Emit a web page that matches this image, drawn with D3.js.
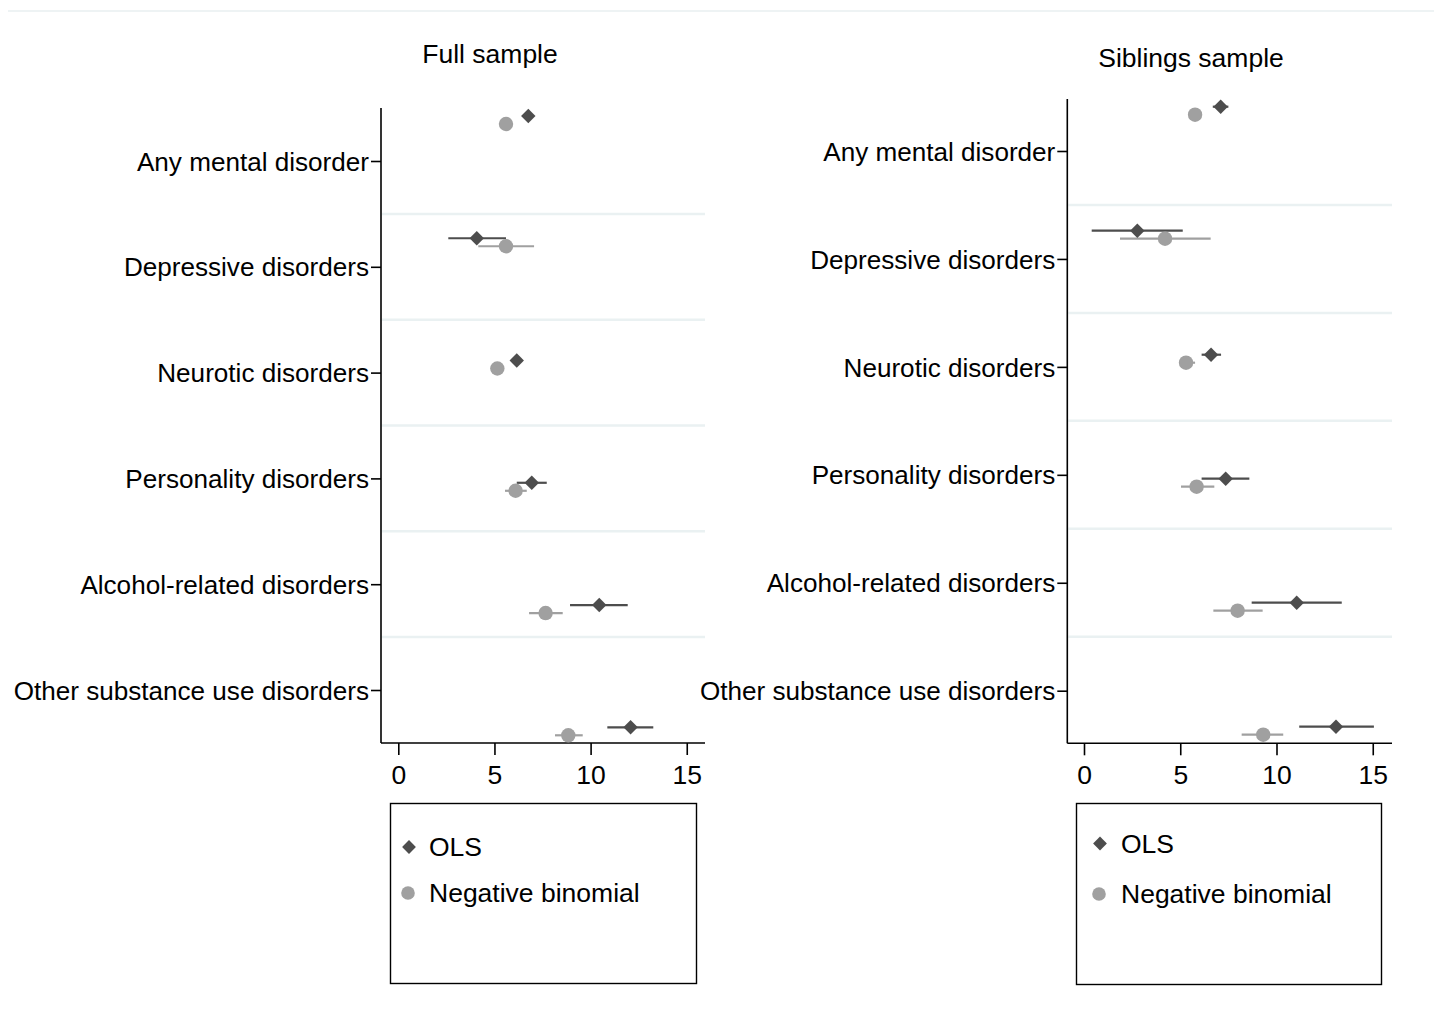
<!DOCTYPE html>
<html><head><meta charset="utf-8">
<script src="https://cdn.jsdelivr.net/npm/d3@7"></script>
<style>body{margin:0;background:#fff}svg{display:block;font-family:"Liberation Sans",Arial,sans-serif}</style>
</head><body>
<svg id="c" width="1434" height="1035"></svg>
<script>
const categories = ["Any mental disorder","Depressive disorders","Neurotic disorders","Personality disorders","Alcohol-related disorders","Other substance use disorders"];
const xTicks = [0,5,10,15];
const seriesNames = ["OLS","Negative binomial"];
const panelTitles = ["Full sample","Siblings sample"];

// Full sample
const fullOls   = [6.76, 4.08, 6.16, 6.94, 10.45, 12.08];
const fullOlsLo = [6.55, 2.60, 5.95, 6.16, 8.93, 10.87];
const fullOlsHi = [6.95, 5.60, 6.40, 7.72, 11.93, 13.26];
const fullNb    = [5.60, 5.60, 5.15, 6.10, 7.66, 8.84];
const fullNbLo  = [5.40, 4.16, 4.95, 5.55, 6.80, 8.15];
const fullNbHi  = [5.80, 7.06, 5.35, 6.68, 8.55, 9.59];
// Siblings sample
const sibOls    = [7.10, 2.77, 6.60, 7.36, 11.05, 13.09];
const sibOlsLo  = [6.69, 0.40, 6.11, 6.11, 8.71, 11.18];
const sibOlsHi  = [7.50, 5.13, 7.12, 8.59, 13.39, 15.06];
const sibNb     = [5.77, 4.21, 5.30, 5.85, 7.98, 9.31];
const sibNbLo   = [5.60, 1.87, 5.00, 5.04, 6.72, 8.19];
const sibNbHi   = [5.95, 6.58, 5.77, 6.77, 9.28, 10.35];

const OLS_COL = "#4d4d4d", NB_COL = "#a0a0a0", SEP_COL = "#eaf1f2";
const FS = 26.5, LFS = 26.1;

const svg = d3.select("#c");
svg.append("line").attr("x1",8).attr("x2",1434).attr("y1",11).attr("y2",11)
  .attr("stroke","#e9eff1").attr("stroke-width",1.5);

const panels = [
  {title: panelTitles[0], titleX: 490, titleY: 62.5, axX: 381, x0: 398.3, unit: 19.23, right: 705, top: 108, bottom: 743,
   lab:[161,690], pts:[116,727.3], nbOff: 8,
   ols: fullOls, olsLo: fullOlsLo, olsHi: fullOlsHi, nb: fullNb, nbLo: fullNbLo, nbHi: fullNbHi,
   leg:{x:390.5,y:803.5,w:306,h:180, s1y:847, s2y:893, mx:409, tx:429}},
  {title: panelTitles[1], titleX: 1191, titleY: 66.5, axX: 1067.3, x0: 1084, unit: 19.25, right: 1392, top: 99, bottom: 743.3,
   lab:[151,690.7], pts:[106.7,726.7], nbOff: 8,
   ols: sibOls, olsLo: sibOlsLo, olsHi: sibOlsHi, nb: sibNb, nbLo: sibNbLo, nbHi: sibNbHi,
   leg:{x:1076.5,y:803.5,w:305,h:181, s1y:843.5, s2y:894, mx:1100, tx:1121}}
];

panels.forEach(p => {
  const g = svg.append("g");
  const x = d3.scaleLinear().domain([(p.axX - p.x0)/p.unit, (p.right - p.x0)/p.unit]).range([p.axX, p.right]);
  const yLab = d3.scalePoint().domain(categories).range(p.lab);
  const yPt = d3.scalePoint().domain(categories).range(p.pts);

  g.append("text").attr("x",p.titleX).attr("y",p.titleY).attr("text-anchor","middle")
    .attr("font-size",FS).attr("fill","#000").text(p.title);

  // separators
  const step = yLab.step();
  categories.slice(0,-1).forEach(c => {
    const yy = yLab(c) + step/2;
    g.append("line").attr("x1",p.axX+1).attr("x2",p.right).attr("y1",yy).attr("y2",yy)
      .attr("stroke",SEP_COL).attr("stroke-width",2.5);
  });

  // y axis
  const yAxis = d3.axisLeft(yLab).tickSize(10).tickPadding(2);
  const ga = g.append("g").attr("transform",`translate(${p.axX},0)`).call(yAxis);
  ga.select(".domain").attr("d",`M0,${p.top}V${p.bottom}`).attr("stroke","#000").attr("stroke-width",1.6);
  ga.selectAll(".tick line").attr("stroke","#000").attr("stroke-width",1.6);
  ga.selectAll(".tick text").attr("font-size",LFS).attr("fill","#000").attr("dy","0.35em");
  ga.attr("font-family",null);

  // x axis
  const xAxis = d3.axisBottom(x).tickValues(xTicks).tickSize(12).tickPadding(10);
  const gx = g.append("g").attr("transform",`translate(0,${p.bottom})`).call(xAxis);
  gx.attr("font-family",null);
  gx.select(".domain").attr("d",`M${p.axX},0H${p.right}`).attr("stroke","#000").attr("stroke-width",1.6);
  gx.selectAll(".tick line").attr("stroke","#000").attr("stroke-width",1.6);
  gx.selectAll(".tick text").attr("font-size",FS).attr("fill","#000");

  const sq = d3.symbol().type(d3.symbolSquare).size(104);

  // CIs
  categories.forEach((c,i) => {
    const yo = yPt(c), yn = yPt(c) + p.nbOff;
    g.append("line").attr("x1",x(p.olsLo[i])).attr("x2",x(p.olsHi[i])).attr("y1",yo).attr("y2",yo)
      .attr("stroke",OLS_COL).attr("stroke-width",2.2);
    g.append("line").attr("x1",x(p.nbLo[i])).attr("x2",x(p.nbHi[i])).attr("y1",yn).attr("y2",yn)
      .attr("stroke",NB_COL).attr("stroke-width",2.2);
  });
  categories.forEach((c,i) => {
    const yo = yPt(c), yn = yPt(c) + p.nbOff;
    g.append("circle").attr("cx",x(p.nb[i])).attr("cy",yn).attr("r",7.2).attr("fill",NB_COL);
    g.append("path").attr("d",sq()).attr("transform",`translate(${x(p.ols[i])},${yo}) rotate(45)`).attr("fill",OLS_COL);
  });

  // legend
  const L = p.leg;
  const lg = g.append("g");
  lg.append("rect").attr("x",L.x).attr("y",L.y).attr("width",L.w).attr("height",L.h)
    .attr("fill","none").attr("stroke","#000").attr("stroke-width",1.4);
  lg.append("path").attr("d",d3.symbol().type(d3.symbolSquare).size(95)()).attr("transform",`translate(${L.mx},${L.s1y}) rotate(45)`).attr("fill",OLS_COL);
  lg.append("text").attr("x",L.tx).attr("y",L.s1y).attr("dy","0.35em").attr("font-size",FS).text(seriesNames[0]);
  lg.append("circle").attr("cx",L.mx-1).attr("cy",L.s2y).attr("r",6.8).attr("fill",NB_COL);
  lg.append("text").attr("x",L.tx).attr("y",L.s2y).attr("dy","0.35em").attr("font-size",FS).text(seriesNames[1]);
});
</script>
</body></html>
